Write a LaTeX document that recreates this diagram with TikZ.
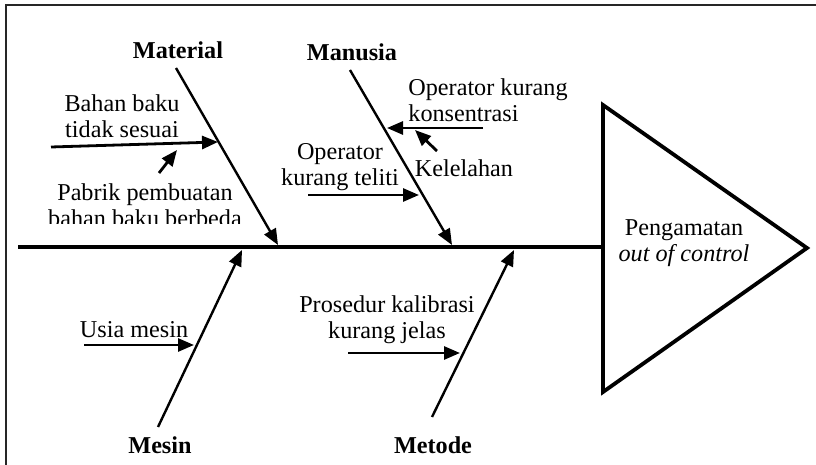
\documentclass[tikz,border=0pt]{standalone}
\usepackage{fontspec}
\setmainfont{Liberation Serif}
\usetikzlibrary{arrows.meta}
\begin{document}
\begin{tikzpicture}[x=0.5pt,y=-0.5pt,
  lbl/.style={font=\fontsize{12.1}{13}\selectfont, align=center, inner sep=0pt},
  cat/.style={font=\fontsize{12.1}{13}\selectfont\bfseries, inner sep=0pt},
  bone/.style={line width=1.2pt, -{Triangle[length=8pt,width=6.5pt]}},
  cause/.style={line width=1.4pt, -{Triangle[length=8pt,width=6.5pt]}},
]
\useasboundingbox (0,0) rectangle (816,465);

% open frame: top and left edges only
\draw[line width=1.2pt, black!85] (6,465) -- (6,5) -- (816,5);

% head of the fish
\coordinate (t1) at (603,105);
\coordinate (t2) at (603,392);
\coordinate (t3) at (807,248);
\draw[line width=1.9pt, line join=miter] (t1) -- (t3) -- (t2) -- cycle;
\node[lbl] (effect) at (684,243) {Pengamatan\\\textit{out of control}};

% spine
\coordinate (tail) at (18,247);
\coordinate (neck) at (603,247);
\draw[line width=1.9pt] (tail) -- (neck);

% main bones
\coordinate (matA) at (176,68);  \coordinate (matB) at (278,245);
\coordinate (manA) at (350,70);  \coordinate (manB) at (452,245);
\coordinate (mesA) at (158,427); \coordinate (mesB) at (242,250);
\coordinate (metA) at (432,417); \coordinate (metB) at (514,250);
\draw[bone] (matA) -- (matB);
\draw[bone] (manA) -- (manB);
\draw[bone] (mesA) -- (mesB);
\draw[bone] (metA) -- (metB);

% category labels
\node[cat] (material) at (178,50) {Material};
\node[cat] (manusia) at (352,52) {Manusia};
\node[cat] (mesin) at (160,445) {Mesin};
\node[cat] (metode) at (433,445) {Metode};

% Material causes
\node[lbl] (bahan) at (122,116) {Bahan baku\\tidak sesuai};
\coordinate (bahanS) at (51,147); \coordinate (bahanT) at (218,142);
\draw[cause] (bahanS) -- (bahanT);
\begin{scope}
  \clip (0,0) rectangle (300,224);
  \node[lbl] (pabrik) at (145,205) {Pabrik pembuatan\\bahan baku berbeda};
\end{scope}
\coordinate (pabrikS) at (159,173); \coordinate (pabrikT) at (177,150);
\draw[cause] (pabrikS) -- (pabrikT);

% Manusia causes
\node[lbl, align=left, anchor=west] (konsen) at (408,100) {Operator kurang\\konsentrasi};
\coordinate (konsenS) at (483,128); \coordinate (konsenT) at (387,128);
\draw[cause] (konsenS) -- (konsenT);
\node[lbl] (lelah) at (464,168) {Kelelahan};
\coordinate (lelahS) at (437,151); \coordinate (lelahT) at (415,130);
\draw[cause] (lelahS) -- (lelahT);
\node[lbl] (teliti) at (340,167) {Operator\\kurang teliti};
\coordinate (telitiS) at (308,195); \coordinate (telitiT) at (419,195);
\draw[cause] (telitiS) -- (telitiT);

% Mesin cause
\node[lbl] (usia) at (134,330) {Usia mesin};
\coordinate (usiaS) at (84,345); \coordinate (usiaT) at (194,345);
\draw[cause] (usiaS) -- (usiaT);

% Metode cause
\node[lbl] (prosedur) at (387,320) {Prosedur kalibrasi\\kurang jelas};
\coordinate (prosS) at (348,353); \coordinate (prosT) at (460,353);
\draw[cause] (prosS) -- (prosT);
\end{tikzpicture}
\end{document}
